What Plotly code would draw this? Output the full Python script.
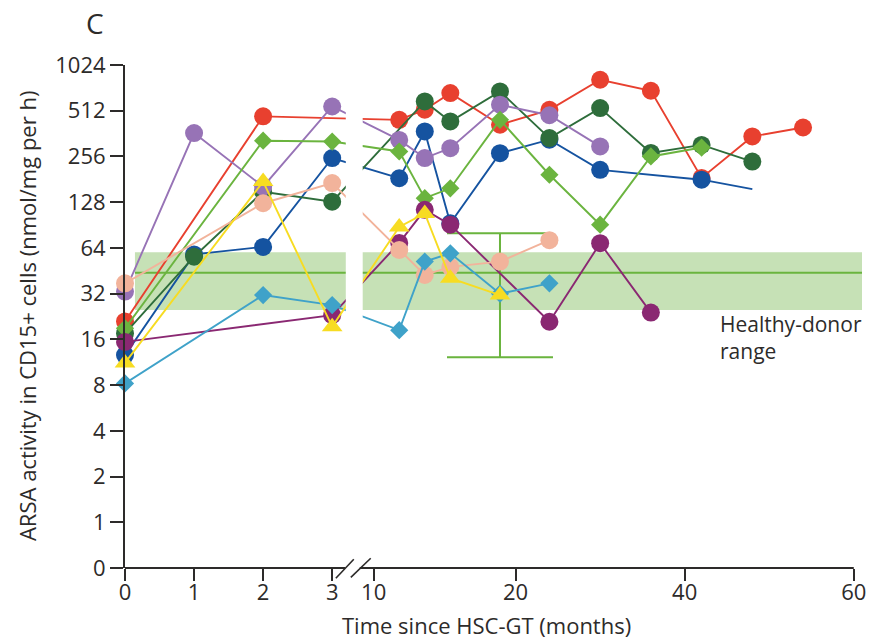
import numpy as np
import plotly.graph_objects as go

# ARSA activity in CD15+ cells (nmol/mg per h) by months since HSC-GT, one list pair per patient
red_t = [0, 2, 11.8, 13.6, 15.4, 18.9, 24, 30, 36, 42, 48, 54]
red_v = [21, 470, 446, 520, 669, 414, 519, 819, 693, 185, 347, 397]

blue_t = [0, 1, 2, 3, 11.8, 13.6, 15.4, 18.9, 24, 30, 42, 48]
blue_v = [12.6, 58, 65, 250, 184, 374, 93, 269, 330, 209, 180, 156]

dkgreen_t = [0, 1, 2, 3, 13.6, 15.4, 18.9, 24, 30, 36, 42, 48]
dkgreen_v = [17.5, 56, 150, 129, 589, 435, 686, 338, 533, 270, 305, 237]

purple_t = [0, 1, 2, 3, 11.8, 13.6, 15.4, 18.9, 24, 30]
purple_v = [33, 365, 162, 546, 329, 250, 290, 561, 478, 298]

ltgreen_t = [0, 2, 3, 11.8, 13.6, 15.4, 18.9, 24, 30, 36, 42]
ltgreen_v = [18.9, 325, 321, 276, 136, 158, 446, 194, 91, 256, 293]

magenta_t = [0, 3, 11.8, 13.6, 15.4, 24, 30, 36]
magenta_v = [15.4, 23.1, 69, 114, 91, 20.9, 68.7, 24]

salmon_t = [0, 2, 3, 11.8, 13.6, 15.4, 18.9, 24]
salmon_v = [37.4, 126, 171, 62, 42.5, 48, 52, 72]

cyan_t = [0, 2, 3, 11.8, 13.6, 15.4, 18.9, 24]
cyan_v = [8.2, 31.3, 26.9, 18.4, 52, 59, 32, 37.4]

yellow_t = [0, 2, 3, 11.8, 13.6, 15.4, 18.9]
yellow_v = [11.2, 175, 19.4, 88, 108, 40.4, 31.3]

# healthy-donor reference
donor_low, donor_mean, donor_high = 25, 44, 60
donor_bar_t = 18.9
donor_bar_low, donor_bar_high = 12.2, 80

x_tick_months = [0, 1, 2, 3, 10, 20, 40, 60]
x_tick_text = ["0", "1", "2", "3", "10", "20", "40", "60"]
y_tick_vals = [0.5, 1, 2, 4, 8, 16, 32, 64, 128, 256, 512, 1024]
y_tick_text = ["0", "1", "2", "4", "8", "16", "32", "64", "128", "256", "512", "1024"]

# broken time axis: 0-3 months expanded, then 10-60 months compressed
BREAK_MONTHS = [0, 3, 10, 20, 60]
BREAK_POS = [0, 3, 3.601, 5.656, 10.553]
X_MAX = 10.672
GAP = (3.197, 3.442)


def xpos(months):
    return np.interp(months, BREAK_MONTHS, BREAK_POS)


TEXT = "#2d2b2a"
FONT = "Open Sans"
BAND = "#c6e1b6"
MEAN = "#6ab43e"

series = [
    (red_t, red_v, "#e8402f", "circle", 18),
    (blue_t, blue_v, "#1553a0", "circle", 18),
    (dkgreen_t, dkgreen_v, "#2e6d3b", "circle", 18),
    (purple_t, purple_v, "#9773b6", "circle", 18),
    (ltgreen_t, ltgreen_v, "#6bb43f", "diamond", 14),
    (magenta_t, magenta_v, "#8a2872", "circle", 18),
    (salmon_t, salmon_v, "#f2b39b", "circle", 18),
    (cyan_t, cyan_v, "#3fa2c9", "diamond", 14),
    (yellow_t, yellow_v, "#f7dc22", "triangle-up", 18),
]

fig = go.Figure()

band_x0 = 0.144
fig.add_trace(go.Scatter(
    x=[band_x0, X_MAX, X_MAX, band_x0, band_x0],
    y=[donor_low, donor_low, donor_high, donor_high, donor_low],
    mode="lines", fill="toself", fillcolor=BAND, line=dict(width=0),
    hoverinfo="skip", showlegend=False))
fig.add_trace(go.Scatter(
    x=[band_x0, X_MAX], y=[donor_mean, donor_mean], mode="lines",
    line=dict(color=MEAN, width=2), hoverinfo="skip", showlegend=False))
fig.add_trace(go.Scatter(
    x=[xpos(donor_bar_t)], y=[donor_mean], mode="markers",
    marker=dict(size=0.1, color="rgba(0,0,0,0)"),
    error_y=dict(type="data", symmetric=False,
                 array=[donor_bar_high - donor_mean],
                 arrayminus=[donor_mean - donor_bar_low],
                 color=MEAN, thickness=2, width=53),
    hoverinfo="skip", showlegend=False))

for t, v, color, symbol, size in series:
    sizes = [size] * len(t)
    if t is blue_t:
        sizes[-1] = 0  # last blue value shown as a line end only
    fig.add_trace(go.Scatter(
        x=xpos(t), y=v, mode="lines+markers",
        line=dict(color=color, width=1.9),
        marker=dict(color=color, symbol=symbol, size=sizes, opacity=1,
                    line=dict(width=0)),
        cliponaxis=False, showlegend=False))

shapes = [
    # blank strip separating the two time scales
    dict(type="rect", xref="x", yref="paper", x0=GAP[0], x1=GAP[1], y0=0, y1=1,
         fillcolor="white", line=dict(width=0), layer="above"),
    # x axis line in two pieces
    dict(type="line", xref="paper", yref="paper", x0=0, x1=3.190 / X_MAX, y0=0, y1=0,
         line=dict(color=TEXT, width=2), layer="above"),
    dict(type="line", xref="paper", yref="paper", x0=3.399 / X_MAX, x1=xpos(60) / X_MAX,
         y0=0, y1=0, line=dict(color=TEXT, width=2), layer="above"),
    # break marks
    dict(type="line", xref="paper", yref="paper", x0=3.053 / X_MAX, x1=3.313 / X_MAX,
         y0=-0.0205, y1=0.0173, line=dict(color=TEXT, width=1.6), layer="above"),
    dict(type="line", xref="paper", yref="paper", x0=3.270 / X_MAX, x1=3.558 / X_MAX,
         y0=-0.0185, y1=0.0193, line=dict(color=TEXT, width=1.6), layer="above"),
]

annotations = [
    dict(text="C", xref="paper", yref="paper", x=-0.0405, y=1.084, showarrow=False,
         font=dict(family=FONT, size=28, color=TEXT), xanchor="center", yanchor="middle"),
    dict(text="ARSA activity in CD15+ cells (nmol/mg per h)", xref="paper", yref="paper",
         x=-0.1336, y=0.5, textangle=-90, showarrow=False,
         font=dict(family=FONT, size=22, color=TEXT), xanchor="center", yanchor="middle"),
    dict(text="Time since HSC-GT (months)", xref="paper", yref="paper",
         x=0.49, y=-0.114, showarrow=False,
         font=dict(family=FONT, size=22, color=TEXT), xanchor="center", yanchor="middle"),
    dict(text="Healthy-donor<br>range", xref="paper", yref="paper",
         x=(721.7 - 125) / 741, y=0.459, showarrow=False, align="left",
         font=dict(family=FONT, size=21, color=TEXT), xanchor="left", yanchor="middle"),
]

fig.update_layout(
    width=874, height=640,
    margin=dict(l=125, r=8, t=65, b=72),
    paper_bgcolor="white", plot_bgcolor="white",
    font=dict(family=FONT, color=TEXT),
    shapes=shapes, annotations=annotations,
    showlegend=False,
    xaxis=dict(range=[0, X_MAX], tickvals=list(xpos(x_tick_months)), ticktext=x_tick_text,
               ticks="outside", ticklen=12, tickwidth=2, tickcolor=TEXT,
               ticklabelstandoff=-7,
               showline=False, showgrid=False, zeroline=False,
               tickfont=dict(family=FONT, size=22, color=TEXT)),
    yaxis=dict(type="log", range=[np.log10(0.5), np.log10(1024)],
               tickvals=y_tick_vals, ticktext=y_tick_text,
               ticks="outside", ticklen=13, tickwidth=2, tickcolor=TEXT,
               showline=True, linewidth=2, linecolor=TEXT,
               showgrid=False, zeroline=False,
               tickfont=dict(family=FONT, size=22, color=TEXT)),
)

fig.write_html("out.html")
